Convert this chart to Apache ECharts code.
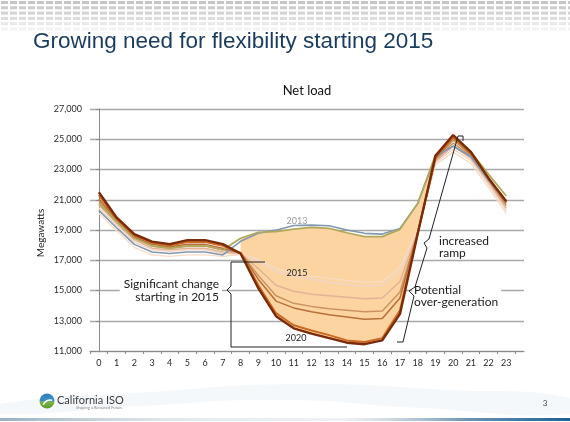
<!DOCTYPE html>
<html><head><meta charset="utf-8">
<script src="https://cdn.jsdelivr.net/npm/echarts@6/dist/echarts.min.js"></script>
<style>html,body{margin:0;padding:0;background:#fff}#c{width:570px;height:422px}</style>
</head><body><div id="c"></div>
<script>
const hours = [0,1,2,3,4,5,6,7,8,9,10,11,12,13,14,15,16,17,18,19,20,21,22,23];
const yTicks = [11000,13000,15000,17000,19000,21000,23000,25000,27000];
const s2012 = [20300,19150,18050,17550,17450,17550,17550,17350,18250,18780,18990,19300,19320,19280,19000,18780,18730,19100,20760,23840,24550,23840,22300,20850];
const s2013 = [20760,19550,18450,17940,17790,17940,17940,17680,18450,18850,18890,19060,19170,19110,18820,18560,18560,19040,20760,23950,24950,24170,22680,21250];
const s2014 = [20100,18950,17850,17350,17250,17350,17350,17250,17380,17050,16450,16150,15950,15800,15650,15550,15600,16550,19000,23300,24150,23400,21800,20100];
const s2015 = [20450,19300,18200,17700,17600,17700,17700,17450,17400,16950,16250,15950,15750,15550,15400,15300,15350,16300,18950,23450,24350,23600,22000,20300];
const s2016 = [20650,19450,18350,17800,17700,17800,17800,17550,17450,16450,15350,14950,14750,14650,14550,14450,14500,15600,18900,23550,24550,23750,22150,20450];
const s2017 = [20900,19650,18500,17950,17850,17950,17950,17700,17500,16000,14650,14150,13950,13800,13700,13600,13650,14900,18850,23650,24750,23900,22300,20600];
const s2018 = [21050,19700,18550,18050,17900,18050,18050,17800,17500,15750,14300,13850,13600,13400,13250,13100,13150,14500,18800,23750,24950,24000,22400,20750];
const s2019 = [21300,19750,18650,18150,17980,18200,18200,17950,17480,15350,13500,12700,12350,12050,11700,11600,11850,13700,18780,23800,25100,24100,22450,20850];
const s2020 = [21500,19830,18730,18230,18070,18330,18330,18070,17450,15150,13300,12500,12150,11850,11550,11450,11700,13450,18750,23900,25280,24170,22410,20900];
const fillHours = [8,9,10,11,12,13,14,15,16,17,18,19];

const F = "Lato, 'DejaVu Sans', sans-serif";
const pair = arr => hours.map((h,i)=>[h,arr[i]]);

// top decorative dot band
const pat = document.createElement('canvas');
pat.width = 570; pat.height = 36;
const cx = pat.getContext('2d');
const alphas = [0.42,0.38,0.33,0.26,0.17,0.09];
for (let r=0;r<alphas.length;r++){
  cx.fillStyle = 'rgba(120,120,120,'+alphas[r]+')';
  for (let c=0;c<64;c++){ cx.fillRect(c*9+1, r*5.3+1, 7, 3); }
}

const lineS = (name, arr, color, w, z) => ({
  name, type:'line', data: pair(arr), showSymbol:false, z: z||3,
  lineStyle:{color, width:w}, itemStyle:{color}, emphasis:{disabled:true}
});

const chart = echarts.init(document.getElementById('c'), null, {renderer:'canvas'});
chart.setOption({
  animation:false,
  backgroundColor:'#ffffff',
  grid:{left:90, right:46, top:109, bottom:71},
  xAxis:{type:'value', min:-0.5, max:24,
    axisLine:{lineStyle:{color:'#8a8a8a', width:1}},
    axisTick:{show:true, length:3, lineStyle:{color:'#8a8a8a'},
      customValues:[-0.5,0.5,1.5,2.5,3.5,4.5,5.5,6.5,7.5,8.5,9.5,10.5,11.5,12.5,13.5,14.5,15.5,16.5,17.5,18.5,19.5,20.5,21.5,22.5,23.5]},
    axisLabel:{customValues:hours, color:'#2a2a2a', fontSize:9, fontFamily:F, margin:8},
    splitLine:{show:false}},
  yAxis:{type:'value', min:11000, max:27000, interval:2000,
    axisLine:{show:true, lineStyle:{color:'#8a8a8a', width:1}},
    axisTick:{show:true, length:3, lineStyle:{color:'#8a8a8a'}},
    axisLabel:{color:'#2a2a2a', fontSize:9, fontFamily:F, margin:8,
      formatter: v => v.toLocaleString('en-US')},
    splitLine:{lineStyle:{color:'#a9a9a9', width:1.3}}},
  series:[
    {type:'custom', z:1, silent:true, data:[0],
     renderItem:(params, api)=>{
       const pts = [];
       fillHours.forEach(h=>pts.push(api.coord([h, s2013[h]])));
       fillHours.slice().reverse().forEach(h=>pts.push(api.coord([h, s2020[h]])));
       return {type:'polygon', shape:{points:pts}, style:{fill:'#FBD4A2'}};
     }},
    lineS('2014', s2014, '#F7DCC6', 1.3),
    lineS('2015', s2015, '#F1D6C6', 1.5),
    lineS('2016', s2016, '#E2B396', 1.5),
    lineS('2017', s2017, '#CD9262', 1.5),
    lineS('2018', s2018, '#B6703A', 1.5),
    lineS('2012', s2012, '#8298AF', 1.6),
    lineS('2013', s2013, '#B1A85A', 1.7),
    lineS('2019', s2019, '#CB6A22', 2),
    lineS('2020', s2020, '#7A2B0A', 2.4)
  ],
  graphic:[
    {type:'image', z:-10, style:{image:pat, x:0, y:0, width:570, height:36}},
    {type:'text', z:50, style:{text:'Growing need for flexibility starting 2015', x:33, y:42,
      verticalAlign:'middle', fill:'#1B3B5E', font:"22.5px 'Liberation Sans', Arial, sans-serif"}},
    {type:'text', z:50, style:{text:'Net load', x:307, y:91, align:'center', verticalAlign:'middle',
      fill:'#111', font:'13px '+F}},
    {type:'text', z:50, rotation:Math.PI/2, x:41, y:233, style:{text:'Megawatts', align:'center',
      verticalAlign:'middle', fill:'#222', font:'10px '+F}},
    {type:'text', z:50, style:{text:'2013', x:297, y:221, align:'center', verticalAlign:'middle',
      fill:'#9a9a9a', font:'9px '+F}},
    {type:'text', z:50, style:{text:'2015', x:297, y:273, align:'center', verticalAlign:'middle',
      fill:'#222', font:'9px '+F}},
    {type:'text', z:50, style:{text:'2020', x:296, y:338, align:'center', verticalAlign:'middle',
      fill:'#222', font:'9px '+F}},
    {type:'text', z:50, style:{text:'Significant change\nstarting in 2015', x:222, y:291, align:'right',
      verticalAlign:'middle', fill:'#1a1a1a', font:'12px '+F, lineHeight:13,
      backgroundColor:'#fff', padding:[1,3,1,4]}},
    {type:'text', z:50, style:{text:'Potential\nover-generation', x:412, y:296, align:'left',
      verticalAlign:'middle', fill:'#1a1a1a', font:'12px '+F, lineHeight:12,
      backgroundColor:'#fff', padding:[1,3,1,2]}},
    {type:'text', z:50, style:{text:'increased\nramp', x:439, y:247, align:'left',
      verticalAlign:'middle', fill:'#1a1a1a', font:'12px '+F, lineHeight:12}},
    {type:'polyline', z:60, shape:{points:[[265,262],[231,262],[231,286],[227,290],[231,294],[231,347],[347,347]]},
      style:{stroke:'#222', lineWidth:1, fill:null}},
    {type:'polyline', z:60, shape:{points:[[397,342],[403,342],[414,296],[409,291],[415,287],[427,248],[424,243],[429,239],[458,136],[463,136],[463,141]]},
      style:{stroke:'#222', lineWidth:1, fill:null}},
    // footer
    {type:'rect', z:-5, shape:{x:0, y:418, width:570, height:3},
      style:{fill:new echarts.graphic.LinearGradient(0,0,1,0,[
        {offset:0,color:'rgba(110,140,165,0.7)'},{offset:0.3,color:'rgba(170,190,205,0.35)'},
        {offset:0.6,color:'rgba(200,210,220,0.3)'},{offset:0.82,color:'rgba(70,120,160,0.8)'},{offset:1,color:'#1E5F92'}])}},
    {type:'polygon', z:-6, shape:{points:[[0,404],[150,392],[300,384],[450,390],[570,398],[570,414],[420,408],[280,400],[140,406],[0,414]], smooth:0.5},
      style:{fill:'rgba(200,215,225,0.18)'}},
    {type:'circle', z:20, shape:{cx:47, cy:401, r:7.5},
      style:{fill:new echarts.graphic.LinearGradient(0,0,0,1,[
        {offset:0,color:'#2F7FC1'},{offset:0.5,color:'#3C8FC0'},{offset:0.55,color:'#7DB544'},{offset:1,color:'#5C9A2E'}])}},
    {type:'arc', z:21, shape:{cx:50, cy:407, r:7, startAngle:Math.PI*1.1, endAngle:Math.PI*1.6},
      style:{stroke:'#fff', lineWidth:1.5, fill:null}},
    {type:'text', z:20, style:{text:'California ISO', x:57, y:400, verticalAlign:'middle',
      fill:'#3c3c3c', font:'11px '+F}},
    {type:'text', z:20, style:{text:'Shaping a Renewed Future', x:76, y:408, verticalAlign:'middle',
      fill:'#8a8a8a', font:'4px '+F}},
    {type:'text', z:20, style:{text:'3', x:545, y:403, align:'center', verticalAlign:'middle',
      fill:'#444', font:'8px '+F}}
  ]
});
</script></body></html>
